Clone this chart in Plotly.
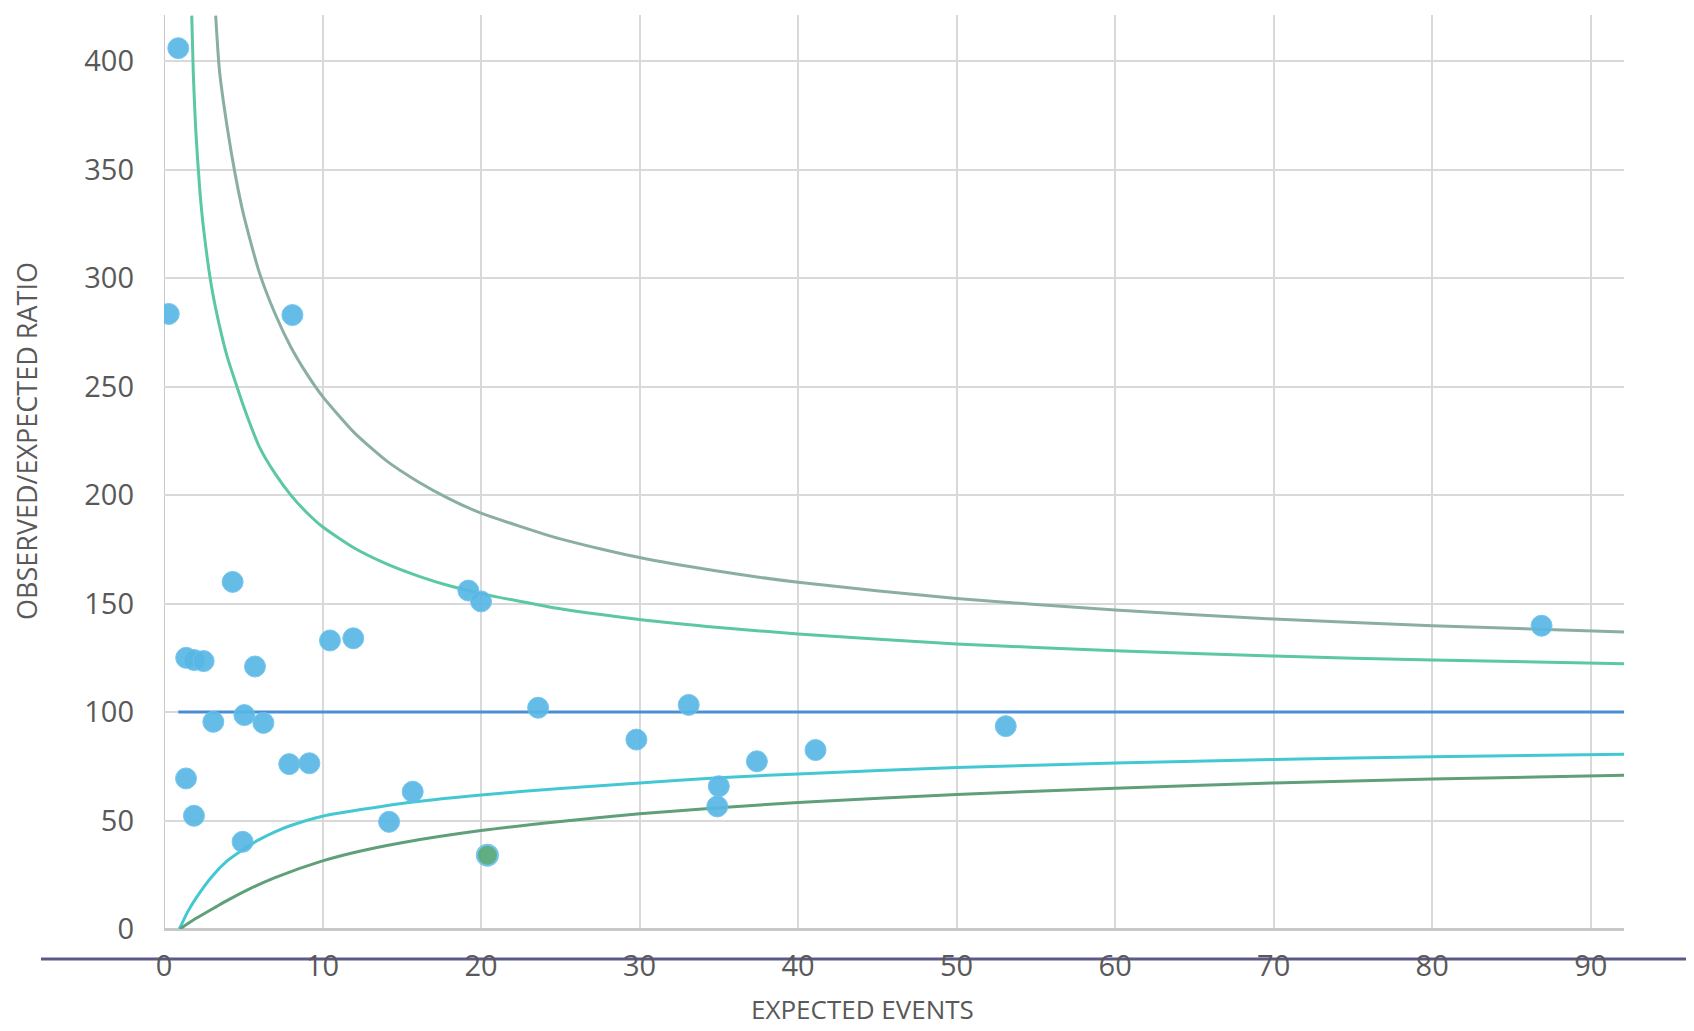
import plotly.graph_objects as go

# ---- data ----
expected = [0.9, 0.3, 8.1, 4.33, 1.4, 1.9, 2.5, 5.74, 10.47, 11.94, 3.11, 5.07, 6.27,
            7.9, 9.17, 1.39, 1.89, 4.96, 15.69, 14.2, 19.2, 20.0, 23.6, 29.8, 33.1,
            37.4, 41.1, 35.0, 34.9, 53.1, 86.9]
ratio = [406, 283.5, 283, 160, 125, 124, 123.5, 121, 133, 134, 95.5, 98.6, 95,
         76, 76.4, 69.4, 52.2, 40.2, 63.3, 49.4, 156, 151, 102, 87.3, 103.3,
         77.3, 82.5, 65.8, 56.5, 93.5, 139.8]
green_x = [20.4]
green_y = [34]

upper998_x = [3.26, 3.5, 4, 4.5, 5, 6, 7, 8, 9, 10, 12, 14, 16, 18, 20, 25, 30, 35, 40,
              50, 60, 70, 80, 92.2]
upper998_y = [421, 395.6, 369, 347.5, 329.9, 302.9, 283.7, 268.3, 256, 245.5, 228.8, 216,
              206.3, 198.3, 191.7, 179.8, 171.2, 164.9, 159.8, 152.3, 147, 142.9, 139.8, 136.9]

upper95_x = [1.75, 1.85, 2.0, 2.25, 2.5, 3, 3.5, 4, 4.6, 5, 6, 7, 8, 9, 10, 12, 14, 16, 18,
             20, 25, 30, 35, 40, 50, 60, 70, 80, 92.2]
upper95_y = [421, 394, 368.7, 341.3, 322.6, 296, 278, 263.5, 250, 241.3, 222.5, 210, 200,
             192, 185.4, 175.6, 168.4, 162.8, 158.2, 154.6, 147.6, 142.7, 139, 136, 131.4,
             128.3, 125.8, 124, 122.3]

lower95_x = [0.97, 1.5, 2, 3, 4, 5, 6, 7, 8, 10, 15, 20, 25, 30, 35, 40, 50, 60, 70, 80, 92.2]
lower95_y = [0, 8, 14, 24, 31.5, 36.7, 41.2, 44.8, 47.7, 52, 57.9, 61.8, 64.8, 67.3, 69.7,
             71.5, 74.4, 76.5, 78.1, 79.4, 80.6]

lower998_x = [1.0, 2, 3.3, 4, 5.4, 7, 10, 12, 15, 20, 25, 30, 35, 40, 50, 60, 70, 80, 92.2]
lower998_y = [0, 4.8, 10.3, 13.2, 18.5, 23.7, 31.4, 35.3, 39.8, 45.4, 49.6, 53.1, 55.9, 58.3,
              62, 64.9, 67.3, 69.1, 70.9]

target_x = [0.9, 92.2]
target_y = [100, 100]

x_ticks = [0, 10, 20, 30, 40, 50, 60, 70, 80, 90]
y_ticks = [0, 50, 100, 150, 200, 250, 300, 350, 400]

FONT = "Open Sans"
TICK_COLOR = "#595959"

fig = go.Figure()

def curve(xs, ys, color):
    fig.add_trace(go.Scatter(x=xs, y=ys, mode="lines",
                             line=dict(color=color, width=3, shape="spline", smoothing=0.6),
                             showlegend=False, hoverinfo="skip"))

curve(upper998_x, upper998_y, "#8aaea3")
curve(upper95_x, upper95_y, "#5cc7a3")
curve(lower95_x, lower95_y, "#43c8d3")
curve(lower998_x, lower998_y, "#5f9f79")
fig.add_trace(go.Scatter(x=target_x, y=target_y, mode="lines",
                         line=dict(color="#4a8fd6", width=3),
                         showlegend=False, hoverinfo="skip"))

fig.add_trace(go.Scatter(x=expected, y=ratio, mode="markers",
                         marker=dict(size=21, color="#58b7e6", opacity=0.92,
                                     line=dict(width=1, color="#6cc2ec")),
                         showlegend=False))
fig.add_trace(go.Scatter(x=green_x, y=green_y, mode="markers",
                         marker=dict(size=21, color="#5aa97c", opacity=0.95,
                                     line=dict(width=2, color="#6cc2ec")),
                         showlegend=False))

# page body has an 8px margin, so the figure is 8px smaller and margins shifted
fig.update_layout(
    width=1686, height=1023,
    margin=dict(l=156, r=70, t=7, b=102),
    paper_bgcolor="white", plot_bgcolor="white",
    font=dict(family=FONT, color=TICK_COLOR),
    xaxis=dict(range=[0, 92.1], tickvals=x_ticks, ticktext=[str(v) for v in x_ticks],
               showgrid=True, gridcolor="#d9d9d9", gridwidth=1.5,
               zeroline=False, showline=False, ticks="",
               tickfont=dict(family=FONT, size=29, color=TICK_COLOR),
               ticklabelstandoff=17),
    yaxis=dict(range=[0, 421.3], tickvals=y_ticks, ticktext=[str(v) for v in y_ticks],
               showgrid=True, gridcolor="#d9d9d9", gridwidth=1.5,
               zeroline=True, zerolinecolor="#c8c8c8", zerolinewidth=3,
               showline=False, ticks="",
               tickfont=dict(family=FONT, size=29, color=TICK_COLOR),
               ticklabelstandoff=29),
    shapes=[
        dict(type="line", xref="paper", yref="paper",
             x0=(41 - 164) / 1460, x1=(1694 - 164) / 1460,
             y0=(929 - 959) / 914, y1=(929 - 959) / 914,
             line=dict(color="#5b5a86", width=3), layer="below"),
        dict(type="line", xref="x", yref="paper", x0=0, x1=0, y0=0, y1=1,
             line=dict(color="#c8c8c8", width=2), layer="below"),
    ],
    annotations=[
        dict(text="EXPECTED EVENTS", xref="paper", yref="paper",
             x=(862 - 164) / 1460, y=(929 - 1029) / 914,
             xanchor="center", yanchor="bottom", showarrow=False,
             font=dict(family=FONT, size=26, color=TICK_COLOR)),
        dict(text="OBSERVED/EXPECTED RATIO", xref="paper", yref="paper",
             x=(27 - 164) / 1460, y=(929 - 441) / 914, textangle=-90,
             xanchor="center", yanchor="middle", showarrow=False,
             font=dict(family=FONT, size=27, color=TICK_COLOR)),
    ],
)

fig.write_html("out.html")
